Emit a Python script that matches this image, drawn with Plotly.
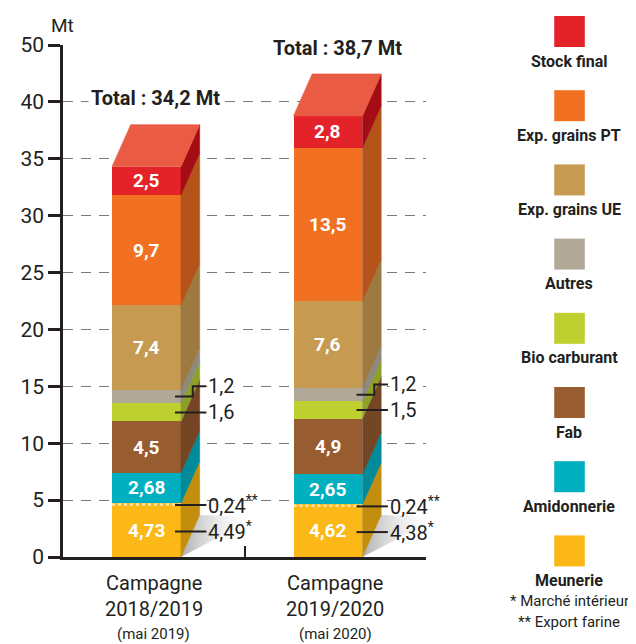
import plotly.graph_objects as go

# ---------------- data ----------------
campagnes = ["Campagne 2018/2019", "Campagne 2019/2020"]
cat_line1 = ["Campagne", "Campagne"]
cat_line2 = ["2018/2019", "2019/2020"]
cat_line3 = ["(mai 2019)", "(mai 2020)"]
totals_text = ["Total : 34,2 Mt", "Total : 38,7 Mt"]

series = ["Meunerie", "Amidonnerie", "Fab", "Bio carburant", "Autres",
          "Exp. grains UE", "Exp. grains PT", "Stock final"]
meunerie = [4.73, 4.62]
amidonnerie = [2.68, 2.65]
fab = [4.5, 4.9]
bio_carburant = [1.6, 1.5]
autres = [1.2, 1.2]
exp_grains_ue = [7.4, 7.6]
exp_grains_pt = [9.7, 13.5]
stock_final = [2.5, 2.8]
meunerie_interieur = [4.49, 4.38]
meunerie_export = [0.24, 0.24]

values = [meunerie, amidonnerie, fab, bio_carburant, autres,
          exp_grains_ue, exp_grains_pt, stock_final]
labels_inside = [["4,73", "4,62"], ["2,68", "2,65"], ["4,5", "4,9"], None, None,
                 ["7,4", "7,6"], ["9,7", "13,5"], ["2,5", "2,8"]]

front_colors = ["#FBB817", "#00AFC0", "#985C31", "#BDD030", "#B1A898",
                "#C69A50", "#F27022", "#E3222A"]
side_colors = ["#C38E0E", "#008A9A", "#744624", "#8EA02A", "#8D897F",
               "#9C7A40", "#B5541A", "#A50D15"]
top_color = "#EA5B43"
ink = "#231F20"

legend_order = ["Stock final", "Exp. grains PT", "Exp. grains UE", "Autres",
                "Bio carburant", "Fab", "Amidonnerie", "Meunerie"]
footnotes = ["* Marché intérieur", "** Export farine"]

# ---------------- geometry ----------------
xpos = [0, 1]
OFF, W = -0.23, 0.38
DX, DY = 0.103, 3.69
FONT = "Roboto, Liberation Sans, sans-serif"


def px(p):  # page x pixel -> paper x
    return (p - 58) / 368


def py(p):  # page y pixel -> paper y
    return (557 - p) / 512


fig = go.Figure()

# shadows
for i, x in enumerate(xpos):
    xr = x + OFF + W
    fig.add_trace(go.Scatter(
        x=[xr, xr + DX, xr + 0.42, xr], y=[0, DY, DY * 0.95, 0],
        mode="lines", fill="toself", line=dict(width=0),
        fillgradient=dict(type="horizontal",
                          colorscale=[[0, "rgba(160,160,160,0.85)"], [1, "rgba(255,255,255,0)"]]),
        hoverinfo="skip", showlegend=False))

# front faces
for s, vals, col in zip(series, values, front_colors):
    fig.add_trace(go.Bar(x=xpos, y=vals, name=s, offset=OFF, width=W,
                         marker=dict(color=col, line=dict(width=0)),
                         hoverinfo="skip", showlegend=False))

# side faces
cum = [[0.0, 0.0]]
for vals in values:
    cum.append([cum[-1][k] + vals[k] for k in range(2)])
for j, (vals, col) in enumerate(zip(values, side_colors)):
    xs, ys = [], []
    for i, x in enumerate(xpos):
        xr = x + OFF + W
        b, t = cum[j][i], cum[j + 1][i]
        xs += [xr, xr, xr + DX, xr + DX, xr, None]
        ys += [b, t, t + DY, b + DY, b, None]
    fig.add_trace(go.Scatter(x=xs, y=ys, mode="lines", fill="toself", fillcolor=col,
                             line=dict(width=0.6, color=col), hoverinfo="skip",
                             showlegend=False))

# top faces
xs, ys = [], []
for i, x in enumerate(xpos):
    xl, xr = x + OFF, x + OFF + W
    T = cum[-1][i]
    xs += [xl, xr, xr + DX, xl + DX, xl, None]
    ys += [T, T, T + DY, T + DY, T, None]
fig.add_trace(go.Scatter(x=xs, y=ys, mode="lines", fill="toself", fillcolor=top_color,
                         line=dict(width=0.6, color=top_color), hoverinfo="skip",
                         showlegend=False))

# meunerie split line (dashed)
for i, x in enumerate(xpos):
    yv = meunerie_interieur[i] + meunerie_export[i] / 2
    fig.add_trace(go.Scatter(x=[x + OFF, x + OFF + W], y=[yv, yv], mode="lines",
                             line=dict(color="#FDE7B0", width=2.5, dash="3px,3px"),
                             hoverinfo="skip", showlegend=False))

annotations = []
# inside labels
for j, labs in enumerate(labels_inside):
    if labs is None:
        continue
    for i, x in enumerate(xpos):
        annotations.append(dict(x=x + OFF + W / 2, y=(cum[j][i] + cum[j + 1][i]) / 2,
                                xanchor="center", yanchor="middle",
                                text="<b>%s</b>" % labs[i], showarrow=False,
                                font=dict(family=FONT, size=19, color="white")))


def fmt(v):
    return ("%g" % v).replace(".", ",")


LBL = dict(family=FONT, size=20, color=ink)
for i, x in enumerate(xpos):
    xr = x + OFF + W
    x0 = xr - 0.033
    x1 = xr + 0.14
    # Autres (step line)
    ym = (cum[4][i] + cum[5][i]) / 2
    yl = ym + 0.9
    fig.add_trace(go.Scatter(x=[x0, xr + 0.065, xr + 0.065, x1], y=[ym, ym, yl, yl],
                             mode="lines", line=dict(color=ink, width=2),
                             hoverinfo="skip", showlegend=False))
    annotations.append(dict(x=x1 + 0.005, y=yl, xanchor="left", yanchor="middle",
                            text=fmt(autres[i]), showarrow=False, bgcolor="white",
                            borderpad=0, font=LBL))
    # Bio carburant
    ym = (cum[3][i] + cum[4][i]) / 2
    fig.add_trace(go.Scatter(x=[x0, x1], y=[ym, ym], mode="lines",
                             line=dict(color=ink, width=2), hoverinfo="skip", showlegend=False))
    annotations.append(dict(x=x1 + 0.005, y=ym, xanchor="left", yanchor="middle",
                            text=fmt(bio_carburant[i]), showarrow=False, bgcolor="white",
                            borderpad=0, font=LBL))
    # export farine
    ym = meunerie_interieur[i] + meunerie_export[i] / 2 - 0.05
    fig.add_trace(go.Scatter(x=[x0, x1], y=[ym, ym], mode="lines",
                             line=dict(color=ink, width=2), hoverinfo="skip", showlegend=False))
    annotations.append(dict(x=x1 + 0.005, y=ym, xanchor="left", yanchor="middle",
                            text=fmt(meunerie_export[i]) + "<sup>**</sup>",
                            showarrow=False, borderpad=0, font=LBL))
    # marché intérieur
    ym = meunerie_interieur[i] / 2
    fig.add_trace(go.Scatter(x=[x0, x1], y=[ym, ym], mode="lines",
                             line=dict(color=ink, width=2), hoverinfo="skip", showlegend=False))
    annotations.append(dict(x=x1 + 0.005, y=ym, xanchor="left", yanchor="middle",
                            text=fmt(meunerie_interieur[i]) + "<sup>*</sup>",
                            showarrow=False, borderpad=0, font=LBL))
    # totals
    annotations.append(dict(x=x + OFF + (W + DX) / 2, y=cum[-1][i] + DY + 2.3,
                            xanchor="center", yanchor="middle",
                            text="<b>%s</b>" % totals_text[i], showarrow=False,
                            bgcolor="white", borderpad=2,
                            font=dict(family=FONT, size=20, color=ink)))
    # category labels
    annotations.append(dict(x=x, y=py(583), yref="paper", xanchor="center", yanchor="middle",
                            text=cat_line1[i], showarrow=False,
                            font=dict(family=FONT, size=20, color=ink)))
    annotations.append(dict(x=x, y=py(609), yref="paper", xanchor="center", yanchor="middle",
                            text=cat_line2[i], showarrow=False,
                            font=dict(family=FONT, size=20, color=ink)))
    annotations.append(dict(x=x, y=py(634), yref="paper", xanchor="center", yanchor="middle",
                            text=cat_line3[i], showarrow=False,
                            font=dict(family=FONT, size=15, color=ink)))

# "Mt" unit
annotations.append(dict(x=px(57), y=py(25), xref="paper", yref="paper",
                        xanchor="center", yanchor="middle", text="Mt", showarrow=False,
                        font=dict(family=FONT, size=19, color=ink)))

# legend (manual)
shapes = []
color_of = dict(zip(series, front_colors))
for k, name in enumerate(legend_order):
    top = 16 + 74.2 * k
    shapes.append(dict(type="rect", xref="paper", yref="paper",
                       x0=px(556), x1=px(587), y0=py(top), y1=py(top + 31),
                       fillcolor=color_of[name], line=dict(width=0)))
    annotations.append(dict(x=px(571), y=py(top + 45), xref="paper", yref="paper",
                            xanchor="center", yanchor="middle",
                            text="<b>%s</b>" % name, showarrow=False,
                            font=dict(family=FONT, size=16, color=ink)))
for k, t in enumerate(footnotes):
    annotations.append(dict(x=px(571), y=py(601 + 21 * k), xref="paper", yref="paper",
                            xanchor="center", yanchor="middle", text=t, showarrow=False,
                            font=dict(family=FONT, size=15, color=ink)))

# page body has an 8px margin: shrink figure and margins to keep plot area in place
fig.update_layout(
    width=628, height=636, barmode="stack", bargap=0,
    margin=dict(l=50, r=210, t=37, b=87),
    plot_bgcolor="white", paper_bgcolor="white", showlegend=False,
    xaxis=dict(range=[-0.5, 1.5], showgrid=False, zeroline=False, showline=True,
               linecolor=ink, linewidth=2.5, tickvals=[0.5, 1.5], ticks="inside",
               ticklen=11, tickwidth=2, tickcolor=ink, showticklabels=False, fixedrange=True),
    yaxis=dict(range=[0, 45], tickvals=[0, 5, 10, 15, 20, 25, 30, 35, 40, 45],
               ticktext=["0", "5", "10", "15", "20", "25", "30", "35", "40", "50"],
               ticks="outside", ticklen=12, tickwidth=2.5, tickcolor=ink,
               showline=True, linecolor=ink, linewidth=2.5, zeroline=False,
               showgrid=True, gridcolor="#7a7a7a", gridwidth=1.3, griddash="10px,8px",
               tickfont=dict(family=FONT, size=21, color=ink), fixedrange=True),
    annotations=annotations, shapes=shapes,
)

fig.write_html("out.html")
